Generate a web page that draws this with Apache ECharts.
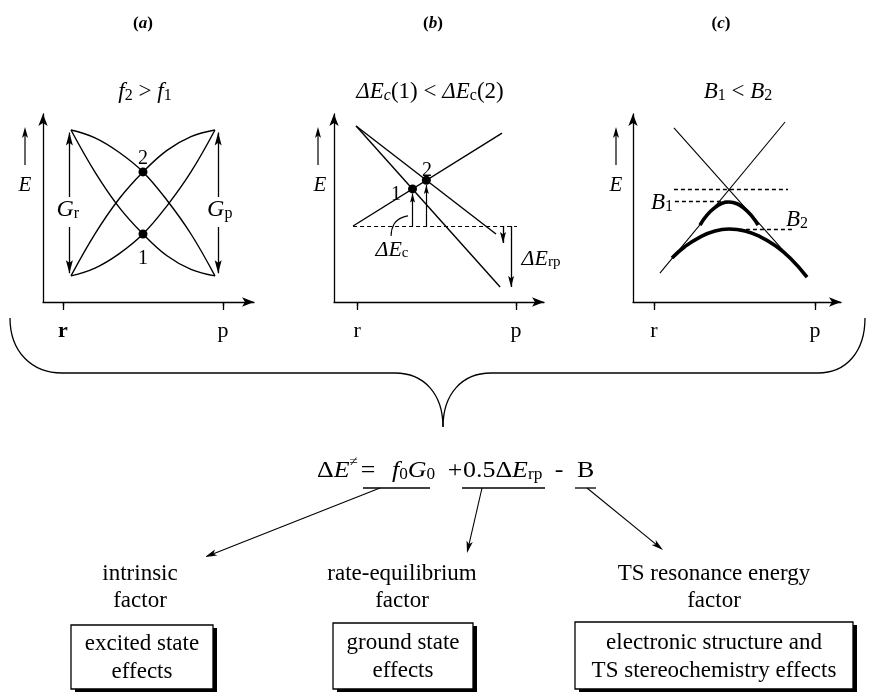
<!DOCTYPE html>
<html><head><meta charset="utf-8">
<script src="https://cdn.jsdelivr.net/npm/echarts@6/dist/echarts.min.js"></script>
<style>html,body{margin:0;padding:0;background:#fff}#c{width:869px;height:692px}</style>
</head><body><div id="c"></div>
<script>
// ---------------- data ----------------
const axisTickValues = [0, 10];          // r and p on the reaction coordinate
const axisTickLabels = ['r', 'p'];
const panelLetters = ['a', 'b', 'c'];
const panelTitles = ['{i|f}{s|2}{u| > }{i|f}{s|1}', '{i|ΔE}{si|c}{u|(1) < }{i|ΔE}{s|c}{u|(2)}', '{i|B}{s|1}{u| < }{i|B}{s|2}'];

// panel (a): four parabola-like curves
const aX = [0.5, 2, 3.5, 5, 6.5, 8, 9.5];
const aCurve1 = [10.75, 10.26, 9.36, 8.13, 6.36, 4.25, 1.63];
const aCurve2 = [10.75, 8.12, 5.93, 4.25, 2.89, 2.04, 1.63];
const aCurve3 = [1.63, 4.26, 6.44, 8.13, 9.48, 10.34, 10.75];
const aCurve4 = [1.63, 2.12, 3.01, 4.25, 6.01, 8.13, 10.75];
const aPoints = [[5, 8.13], [5, 4.25]];
const aArrows = [[[0.4, 6.56], [0.4, 10.6]], [[0.4, 4.69], [0.4, 1.8]], [[9.7, 6.56], [9.7, 10.6]], [[9.7, 4.69], [9.7, 1.8]]];
const aLabels = [[5, 9.06, '{u|2}'], [5, 2.81, '{u|1}'], [0.3, 5.88, '{i|G}{s|r}'], [9.8, 5.88, '{i|G}{s|p}']];

// panel (b): straight diabatic lines
const bLines = [[[-0.25, 4.75], [9.12, 10.56]], [[-0.06, 11.0], [9.0, 0.94]], [[-0.06, 11.0], [8.74, 4.25]]];
const bDashed = [[[-0.25, 4.75], [10.06, 4.75]]];
const bLeader = [[2.14, 4.13], [2.33, 4.88], [3.21, 5.38]];
const bPoints = [[3.49, 7.07], [4.36, 7.61]];
const bSmallArrows = [[[3.49, 4.75], [3.49, 6.78]], [[4.36, 4.75], [4.36, 7.32]]];
const bArrows = [[[9.18, 4.75], [9.18, 3.69]], [[9.69, 4.75], [9.69, 0.94]]];
const bLabels = [[2.45, 6.8, '{u|1}'], [4.4, 8.3, '{u|2}'], [2.2, 3.38, '{i|ΔE}{s|c}'], [11.57, 2.81, '{i|ΔE}{s|rp}']];

// panel (c): diabatic lines and the two avoided-crossing curves
const cLines = [[[0.37, 1.81], [8.14, 11.25]], [[1.24, 10.88], [9.5, 1.56]]];
const cUpperX = [2.86, 3.29, 3.79, 4.22, 4.66, 5.16, 5.65, 6.09, 6.46];
const cUpperE = [4.81, 5.43, 5.91, 6.17, 6.25, 6.14, 5.81, 5.35, 4.81];
const cLowerX = [1.12, 1.93, 2.86, 3.79, 4.66, 5.65, 6.58, 7.52, 8.45, 9.5];
const cLowerE = [2.75, 3.47, 4.06, 4.44, 4.56, 4.44, 4.09, 3.53, 2.75, 1.56];
const cDashed = [[[1.24, 7.06], [8.32, 7.06]], [[1.3, 6.31], [4.6, 6.31]], [[4.84, 4.53], [8.63, 4.53]]];
const cLabels = [[0.5, 6.31, '{i|B}{s|1}'], [8.88, 5.25, '{i|B}{s|2}']];

// bottom scheme
const eqParts = ['{u|Δ}{i|E}{p|≠}', '{u|=}', '{i|f}{s|0}{i|G}{s|0}', '{u|+}', '{u|0.5Δ}{i|E}{s|rp}', '{u|-}', '{u|B}'];
const factorLabels = ['intrinsic\nfactor', 'rate-equilibrium\nfactor', 'TS resonance energy\nfactor'];
const boxLabels = ['excited state\neffects', 'ground state\neffects', 'electronic structure and\nTS stereochemistry effects'];

// ---------------- layout ----------------
const FONT = '"Liberation Serif", "Times New Roman", serif';
const grids = [
  {left: 43, top: 114, width: 211, height: 188},
  {left: 334, top: 114, width: 210, height: 188},
  {left: 633, top: 114, width: 208, height: 188}
];
const xRanges = [[-1.25, 11.94], [-1.45, 11.76], [-1.30, 11.61]];
const yMax = 11.75;
const BLACK = '#000';

function richLabel(size) {
  return {
    u: {color: BLACK, fontFamily: FONT, fontSize: size, verticalAlign: 'bottom', lineHeight: size + 4},
    i: {color: BLACK, fontFamily: FONT, fontSize: size, fontStyle: 'italic', verticalAlign: 'bottom', lineHeight: size + 4},
    s: {color: BLACK, fontFamily: FONT, fontSize: Math.round(size * 0.68), verticalAlign: 'bottom', lineHeight: Math.round(size * 0.4)},
    si: {color: BLACK, fontFamily: FONT, fontSize: Math.round(size * 0.68), fontStyle: 'italic', verticalAlign: 'bottom', lineHeight: Math.round(size * 0.4)}
  };
}
function richG(size) {
  return {
    u: {fill: BLACK, fontFamily: FONT, fontSize: size, verticalAlign: 'bottom', lineHeight: size + 4},
    i: {fill: BLACK, fontFamily: FONT, fontSize: size, fontStyle: 'italic', verticalAlign: 'bottom', lineHeight: size + 4},
    b: {fill: BLACK, fontFamily: FONT, fontSize: size, fontWeight: 'bold', verticalAlign: 'bottom', lineHeight: size + 4},
    bi: {fill: BLACK, fontFamily: FONT, fontSize: size, fontWeight: 'bold', fontStyle: 'italic', verticalAlign: 'bottom', lineHeight: size + 4},
    s: {fill: BLACK, fontFamily: FONT, fontSize: Math.round(size * 0.68), verticalAlign: 'bottom', lineHeight: Math.round(size * 0.4)},
    si: {fill: BLACK, fontFamily: FONT, fontSize: Math.round(size * 0.68), fontStyle: 'italic', verticalAlign: 'bottom', lineHeight: Math.round(size * 0.4)},
    p: {fill: BLACK, fontFamily: FONT, fontSize: Math.round(size * 0.6), verticalAlign: 'top', lineHeight: Math.round(size * 0.55)}
  };
}

const xAxes = [], yAxes = [];
grids.forEach((g, i) => {
  xAxes.push({
    gridIndex: i, type: 'value', min: xRanges[i][0], max: xRanges[i][1],
    axisLine: {show: true, onZero: false, symbol: ['none', 'arrow'], symbolSize: [7, 12], lineStyle: {color: BLACK, width: 1.3}},
    axisTick: {show: true, customValues: axisTickValues, length: 8, inside: false, lineStyle: {color: BLACK, width: 1.3}},
    axisLabel: {show: true, customValues: axisTickValues, margin: 18, color: BLACK, fontFamily: FONT, fontSize: 22,
      formatter: function (v) {
        const k = axisTickValues.indexOf(v);
        const t = axisTickLabels[k];
        return (i === 0 && k === 0) ? '{b|' + t + '}' : t;
      },
      rich: {b: {fontWeight: 'bold', fontFamily: FONT, fontSize: 22, color: BLACK}}},
    splitLine: {show: false}
  });
  xAxes.push({
    gridIndex: i, type: 'value', min: xRanges[i][0], max: xRanges[i][1],
    axisLine: {show: false},
    axisTick: {show: true, customValues: axisTickValues, length: 4, inside: true, lineStyle: {color: BLACK, width: 1.3}},
    axisLabel: {show: false}, splitLine: {show: false}
  });
  yAxes.push({
    gridIndex: i, type: 'value', min: 0, max: yMax,
    axisLine: {show: true, onZero: false, symbol: ['none', 'arrow'], symbolSize: [7, 12], lineStyle: {color: BLACK, width: 1.3}},
    axisTick: {show: false}, axisLabel: {show: false}, splitLine: {show: false}
  });
});

function lineS(p, pts, width, extra) {
  return Object.assign({type: 'line', xAxisIndex: 2 * p, yAxisIndex: p, data: pts, showSymbol: false, symbol: 'none',
    lineStyle: {color: BLACK, width: width}, silent: true, clip: false, z: 3}, extra || {});
}
function segS(p, segs, width, type) {
  return {type: 'lines', coordinateSystem: 'cartesian2d', xAxisIndex: 2 * p, yAxisIndex: p,
    data: segs.map(s => ({coords: s})), symbol: ['none', 'none'],
    lineStyle: {color: BLACK, width: width, type: type || 'solid', opacity: 1, curveness: 0}, silent: true, z: 3};
}
function headS(p, arrows, size) {
  return {type: 'scatter', xAxisIndex: 2 * p, yAxisIndex: p, clip: false, silent: true, z: 4,
    symbol: 'path://M5,0L10,20L5,16L0,20Z', symbolKeepAspect: false, symbolSize: size,
    itemStyle: {color: BLACK, opacity: 1},
    data: arrows.map(a => {
      const up = a[1][1] > a[0][1];
      return {value: a[1], symbolRotate: up ? 0 : 180, symbolOffset: [0, up ? '50%' : '-50%']};
    })};
}
function pointS(p, pts) {
  return {type: 'scatter', xAxisIndex: 2 * p, yAxisIndex: p, silent: true, z: 5, symbol: 'circle', symbolSize: 9,
    itemStyle: {color: BLACK, opacity: 1}, data: pts};
}
function textS(p, items, size) {
  return {type: 'scatter', xAxisIndex: 2 * p, yAxisIndex: p, silent: true, clip: false, z: 6, symbolSize: 0,
    itemStyle: {color: BLACK, opacity: 1},
    data: items.map(it => [it[0], it[1]]),
    label: {show: true, position: 'inside', align: 'center', verticalAlign: 'middle', color: BLACK, opacity: 1,
      textBorderWidth: 0, fontFamily: FONT, fontSize: size,
      formatter: function (prm) { return items[prm.dataIndex][2]; }, rich: richLabel(size)}};
}
const zip = (xs, ys) => xs.map((x, k) => [x, ys[k]]);

const series = [
  // panel a
  lineS(0, zip(aX, aCurve1), 1.4, {smooth: 0.4}),
  lineS(0, zip(aX, aCurve2), 1.4, {smooth: 0.4}),
  lineS(0, zip(aX, aCurve3), 1.4, {smooth: 0.4}),
  lineS(0, zip(aX, aCurve4), 1.4, {smooth: 0.4}),
  segS(0, aArrows, 1.3),
  headS(0, aArrows, [7, 13]),
  pointS(0, aPoints),
  textS(0, aLabels.slice(0, 2), 20),
  textS(0, aLabels.slice(2), 24),
  // panel b
  segS(1, bLines, 1.4),
  segS(1, bDashed, 1.2, [4, 3]),
  lineS(1, bLeader, 1.1, {smooth: 0.6}),
  segS(1, bSmallArrows, 1.2),
  headS(1, bSmallArrows, [5, 9]),
  segS(1, bArrows, 1.3),
  headS(1, bArrows, [6, 11]),
  pointS(1, bPoints),
  textS(1, bLabels.slice(0, 2), 20),
  textS(1, bLabels.slice(2), 22),
  // panel c
  segS(2, cLines, 1.1),
  segS(2, cDashed, 1.3, [4, 3]),
  lineS(2, zip(cUpperX, cUpperE), 3.6, {smooth: 0.5}),
  lineS(2, zip(cLowerX, cLowerE), 3.6, {smooth: 0.5}),
  textS(2, cLabels, 23)
];

// ---------------- decoration (graphic) ----------------
const G = [];
function txt(x, y, text, size, align, extra, sx) {
  return {type: 'text', x: x, y: y, scaleX: sx || 1, silent: true,
    style: Object.assign({text: text, fill: BLACK, fontFamily: FONT, fontSize: size,
      align: align || 'center', textAlign: align || 'center', verticalAlign: 'middle', textVerticalAlign: 'middle',
      rich: richG(size)}, extra || {})};
}
function seg(x1, y1, x2, y2, w) {
  return {type: 'line', silent: true, shape: {x1: x1, y1: y1, x2: x2, y2: y2}, style: {stroke: BLACK, lineWidth: w || 1.2}};
}
function bez(x1, y1, c1x, c1y, c2x, c2y, x2, y2) {
  return {type: 'bezierCurve', silent: true, shape: {x1: x1, y1: y1, cpx1: c1x, cpy1: c1y, cpx2: c2x, cpy2: c2y, x2: x2, y2: y2},
    style: {fill: null, stroke: BLACK, lineWidth: 1.3}};
}
function head(x1, y1, x2, y2, len, hw) {
  const dx = x2 - x1, dy = y2 - y1, L = Math.hypot(dx, dy), ux = dx / L, uy = dy / L;
  const bx = x2 - ux * len, by = y2 - uy * len;
  return {type: 'polygon', silent: true, shape: {points: [[x2, y2], [bx - uy * hw, by + ux * hw], [x2 - ux * len * 0.75, y2 - uy * len * 0.75], [bx + uy * hw, by - ux * hw]]},
    style: {fill: BLACK}};
}
const headX = [143, 433, 721];
const titleX = [145, 430, 738];
const eX = [25, 320, 616];
const eArrowX = [25, 318, 616];
for (let i = 0; i < 3; i++) {
  G.push(txt(headX[i], 22, '{b|(}{bi|' + panelLetters[i] + '}{b|)}', 17));
  G.push(txt(titleX[i], 90, panelTitles[i], 23));
  G.push(txt(eX[i], 183, '{i|E}', 21));
  G.push(seg(eArrowX[i], 165, eArrowX[i], 132, 1.2));
  G.push(head(eArrowX[i], 165, eArrowX[i], 127, 11, 3));
}
// brace
G.push(bez(10, 318, 10, 352, 32, 373, 62, 373));
G.push(seg(62, 373, 395, 373, 1.3));
G.push(bez(395, 373, 424, 373, 443, 394, 443, 427));
G.push(bez(443, 427, 443, 394, 462, 373, 491, 373));
G.push(seg(491, 373, 818, 373, 1.3));
G.push(bez(818, 373, 846, 373, 865, 352, 865, 318));
// equation
const eqX = [317, 368, 392, 455, 463, 559, 577];
const eqAlign = ['left', 'center', 'left', 'center', 'left', 'center', 'left'];
eqParts.forEach((t, k) => G.push(txt(eqX[k], 469, t, 24, eqAlign[k], null, 1.08)));
// underlines and arrows
const ul = [[363, 430], [462, 545], [575, 596]];
ul.forEach(u => G.push(seg(u[0], 488, u[1], 488, 1.3)));
const arr = [[380, 488, 205, 557], [482, 488, 467, 553], [587, 488, 663, 550]];
arr.forEach(a => { G.push(seg(a[0], a[1], a[2] + (a[0] - a[2]) * 0.03, a[3] + (a[1] - a[3]) * 0.03, 1.1)); G.push(head(a[0], a[1], a[2], a[3], 12, 3.2)); });
// factor labels
const facX = [140, 402, 714];
factorLabels.forEach((t, k) => G.push(txt(facX[k], 587, t, 23, 'center', {lineHeight: 27})));
// boxes
const boxes = [[71, 625, 142, 64], [333, 623, 140, 66], [575, 622, 278, 67]];
boxes.forEach((b, k) => {
  G.push({type: 'rect', silent: true, shape: {x: b[0] + 4, y: b[1] + 3, width: b[2], height: b[3]}, style: {fill: BLACK}});
  G.push({type: 'rect', silent: true, shape: {x: b[0], y: b[1], width: b[2], height: b[3]}, style: {fill: '#fff', stroke: BLACK, lineWidth: 1.3}});
  G.push(txt(b[0] + b[2] / 2, b[1] + b[3] / 2 + 1, boxLabels[k], 23, 'center', {lineHeight: 28}));
});

const chart = echarts.init(document.getElementById('c'));
chart.setOption({
  animation: false,
  backgroundColor: '#fff',
  grid: grids,
  xAxis: xAxes,
  yAxis: yAxes,
  series: series,
  graphic: {elements: G}
});
</script></body></html>
